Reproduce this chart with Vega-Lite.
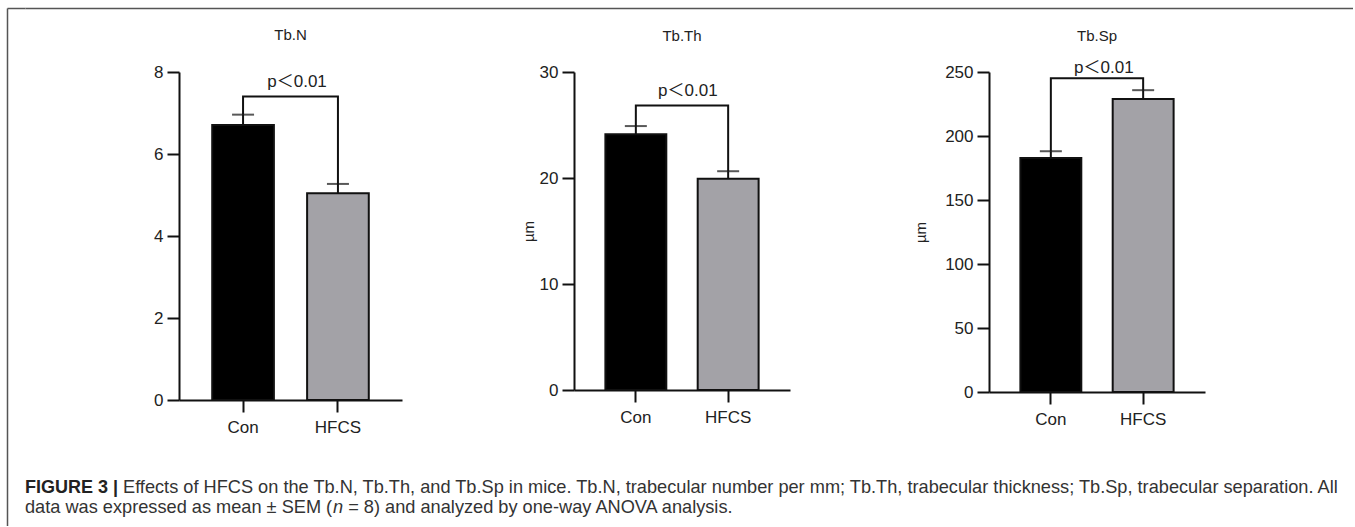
{
  "$schema": "https://vega.github.io/schema/vega-lite/v6.json",
  "background": "white",
  "padding": {"left": 7, "top": 8, "right": 0, "bottom": 0},
  "config": {
    "view": {"stroke": null},
    "font": "Liberation Sans",
    "axis": {"grid": false, "domainColor": "#111", "domainWidth": 2, "tickColor": "#111", "tickWidth": 2, "tickSize": 12, "labelFontSize": 17, "labelColor": "#222", "labelPadding": 4, "titleFontSize": 15, "titleFontWeight": "normal", "titleColor": "#222"},
    "axisX": {"labelAngle": 0, "labelPadding": 7, "title": null},
    "title": {"fontSize": 15, "fontWeight": "normal", "color": "#222", "frame": "group", "anchor": "middle", "baseline": "alphabetic"}
  },
  "datasets": {
    "frame": [{"fx": 0.5, "fy": 0.5}],
    "bars": [
      {"panel": "Tb.N", "group": "Con", "mean": 6.71, "upper": 6.96},
      {"panel": "Tb.N", "group": "HFCS", "mean": 5.04, "upper": 5.27},
      {"panel": "Tb.Th", "group": "Con", "mean": 24.13, "upper": 24.9},
      {"panel": "Tb.Th", "group": "HFCS", "mean": 19.92, "upper": 20.64},
      {"panel": "Tb.Sp", "group": "Con", "mean": 182.9, "upper": 188.1},
      {"panel": "Tb.Sp", "group": "HFCS", "mean": 229.0, "upper": 235.8}
    ],
    "bracket": [
      {"panel": "Tb.N", "group": "Con", "y": 6.96, "o": 1},
      {"panel": "Tb.N", "group": "Con", "y": 7.4, "o": 2},
      {"panel": "Tb.N", "group": "HFCS", "y": 7.4, "o": 3},
      {"panel": "Tb.N", "group": "HFCS", "y": 5.27, "o": 4},
      {"panel": "Tb.Th", "group": "Con", "y": 24.9, "o": 1},
      {"panel": "Tb.Th", "group": "Con", "y": 26.83, "o": 2},
      {"panel": "Tb.Th", "group": "HFCS", "y": 26.83, "o": 3},
      {"panel": "Tb.Th", "group": "HFCS", "y": 20.64, "o": 4},
      {"panel": "Tb.Sp", "group": "Con", "y": 188.1, "o": 1},
      {"panel": "Tb.Sp", "group": "Con", "y": 245.1, "o": 2},
      {"panel": "Tb.Sp", "group": "HFCS", "y": 245.1, "o": 3},
      {"panel": "Tb.Sp", "group": "HFCS", "y": 235.8, "o": 4}
    ],
    "ptext": [
      {"panel": "Tb.N", "group": "Con", "y": 7.4, "label": "p＜0.01"},
      {"panel": "Tb.Th", "group": "Con", "y": 26.83, "label": "p＜0.01"},
      {"panel": "Tb.Sp", "group": "Con", "y": 245.1, "label": "p＜0.01"}
    ],
    "caption": [
      {"line": 1, "part": "bold", "x": 0, "text": "FIGURE 3 |"},
      {"line": 1, "part": "normal", "x": 0, "text": "Effects of HFCS on the Tb.N, Tb.Th, and Tb.Sp in mice. Tb.N, trabecular number per mm; Tb.Th, trabecular thickness; Tb.Sp, trabecular separation. All"},
      {"line": 2, "part": "a", "x": 0, "text": "data was expressed as mean ± SEM ("},
      {"line": 2, "part": "italic", "x": 0, "text": "n"},
      {"line": 2, "part": "b", "x": 0, "text": "= 8) and analyzed by one-way ANOVA analysis."}
    ]
  },
  "spacing": 0,
  "hconcat": [
    {
      "width": 18, "height": 518,
      "data": {"name": "frame"},
      "mark": {"type": "point", "opacity": 0, "size": 0},
      "encoding": {
        "x": {"field": "fx", "type": "quantitative", "scale": {"domain": [0, 1]}, "axis": {"orient": "top", "domainColor": "#555", "domainWidth": 1.5, "ticks": false, "labels": false, "title": null}},
        "y": {"field": "fy", "type": "quantitative", "scale": {"domain": [0, 1]}, "axis": {"orient": "left", "domainColor": "#555", "domainWidth": 1.5, "ticks": false, "labels": false, "title": null}}
      }
    },
    {
      "spacing": 19,
      "vconcat": [
        {
          "width": 1328, "height": 1,
          "data": {"name": "frame"},
          "mark": {"type": "point", "opacity": 0, "size": 0},
          "encoding": {
            "x": {"field": "fx", "type": "quantitative", "scale": {"domain": [0, 1]}, "axis": {"orient": "top", "domainColor": "#555", "domainWidth": 1.5, "ticks": false, "labels": false, "title": null}}
          }
        },
        {
          "spacing": 43,
          "vconcat": [
            {
              "spacing": 127,
              "hconcat": [
                {"width": 1, "height": 1, "data": {"values": []}, "mark": "point"},
                {
                  "spacing": 119,
                  "hconcat": [
                    {
                      "width": 223, "height": 328,
                      "title": {"text": "Tb.N", "offset": 20},
                      "layer": [
                        {
                          "data": {"name": "bars"}, "transform": [{"filter": "datum.panel === 'Tb.N'"}],
                          "mark": {"type": "bar", "stroke": "#111", "strokeWidth": 2},
                          "encoding": {
                            "x": {"field": "group", "type": "nominal", "sort": ["Con", "HFCS"], "scale": {"paddingInner": 0.35, "paddingOuter": 0.35}},
                            "y": {"field": "mean", "type": "quantitative", "scale": {"domain": [0, 8], "nice": false}, "axis": {"values": [0, 2, 4, 6, 8], "title": null}},
                            "fill": {"field": "group", "type": "nominal", "scale": {"domain": ["Con", "HFCS"], "range": ["#000000", "#a3a2a7"]}, "legend": null}
                          }
                        },
                        {
                          "data": {"name": "bars"}, "transform": [{"filter": "datum.panel === 'Tb.N'"}],
                          "mark": {"type": "rule", "color": "#111", "strokeWidth": 2},
                          "encoding": {
                            "x": {"field": "group", "type": "nominal", "sort": ["Con", "HFCS"]},
                            "y": {"field": "mean", "type": "quantitative", "scale": {"domain": [0, 8], "nice": false}},
                            "y2": {"field": "upper"}
                          }
                        },
                        {
                          "data": {"name": "bars"}, "transform": [{"filter": "datum.panel === 'Tb.N'"}],
                          "mark": {"type": "tick", "color": "#111", "thickness": 2, "size": 22, "orient": "horizontal"},
                          "encoding": {
                            "x": {"field": "group", "type": "nominal", "sort": ["Con", "HFCS"]},
                            "y": {"field": "upper", "type": "quantitative", "scale": {"domain": [0, 8], "nice": false}}
                          }
                        },
                        {
                          "data": {"name": "bracket"}, "transform": [{"filter": "datum.panel === 'Tb.N'"}],
                          "mark": {"type": "line", "color": "#111", "strokeWidth": 2},
                          "encoding": {
                            "x": {"field": "group", "type": "nominal", "sort": ["Con", "HFCS"]},
                            "y": {"field": "y", "type": "quantitative", "scale": {"domain": [0, 8], "nice": false}},
                            "order": {"field": "o", "type": "quantitative"}
                          }
                        },
                        {
                          "data": {"name": "ptext"}, "transform": [{"filter": "datum.panel === 'Tb.N'"}],
                          "mark": {"type": "text", "fontSize": 17, "color": "#222", "dx": 54, "dy": -10, "align": "center", "baseline": "alphabetic", "font": "Liberation Sans, Noto Sans CJK SC"},
                          "encoding": {
                            "x": {"field": "group", "type": "nominal", "sort": ["Con", "HFCS"]},
                            "y": {"field": "y", "type": "quantitative", "scale": {"domain": [0, 8], "nice": false}},
                            "text": {"field": "label"}
                          }
                        }
                      ]
                    },
                    {
                      "spacing": 123,
                      "hconcat": [
                        {
                          "width": 216, "height": 318,
                          "title": {"text": "Tb.Th", "offset": 19},
                          "layer": [
                            {
                              "data": {"name": "bars"}, "transform": [{"filter": "datum.panel === 'Tb.Th'"}],
                              "mark": {"type": "bar", "stroke": "#111", "strokeWidth": 2},
                              "encoding": {
                                "x": {"field": "group", "type": "nominal", "sort": ["Con", "HFCS"], "scale": {"paddingInner": 0.34, "paddingOuter": 0.34}},
                                "y": {"field": "mean", "type": "quantitative", "scale": {"domain": [0, 30], "nice": false}, "axis": {"values": [0, 10, 20, 30], "title": "µm", "titlePadding": 3}},
                                "fill": {"field": "group", "type": "nominal", "scale": {"domain": ["Con", "HFCS"], "range": ["#000000", "#a3a2a7"]}, "legend": null}
                              }
                            },
                            {
                              "data": {"name": "bars"}, "transform": [{"filter": "datum.panel === 'Tb.Th'"}],
                              "mark": {"type": "rule", "color": "#111", "strokeWidth": 2},
                              "encoding": {
                                "x": {"field": "group", "type": "nominal", "sort": ["Con", "HFCS"]},
                                "y": {"field": "mean", "type": "quantitative", "scale": {"domain": [0, 30], "nice": false}},
                                "y2": {"field": "upper"}
                              }
                            },
                            {
                              "data": {"name": "bars"}, "transform": [{"filter": "datum.panel === 'Tb.Th'"}],
                              "mark": {"type": "tick", "color": "#111", "thickness": 2, "size": 22, "orient": "horizontal"},
                              "encoding": {
                                "x": {"field": "group", "type": "nominal", "sort": ["Con", "HFCS"]},
                                "y": {"field": "upper", "type": "quantitative", "scale": {"domain": [0, 30], "nice": false}}
                              }
                            },
                            {
                              "data": {"name": "bracket"}, "transform": [{"filter": "datum.panel === 'Tb.Th'"}],
                              "mark": {"type": "line", "color": "#111", "strokeWidth": 2},
                              "encoding": {
                                "x": {"field": "group", "type": "nominal", "sort": ["Con", "HFCS"]},
                                "y": {"field": "y", "type": "quantitative", "scale": {"domain": [0, 30], "nice": false}},
                                "order": {"field": "o", "type": "quantitative"}
                              }
                            },
                            {
                              "data": {"name": "ptext"}, "transform": [{"filter": "datum.panel === 'Tb.Th'"}],
                              "mark": {"type": "text", "fontSize": 17, "color": "#222", "dx": 52, "dy": -10, "align": "center", "baseline": "alphabetic", "font": "Liberation Sans, Noto Sans CJK SC"},
                              "encoding": {
                                "x": {"field": "group", "type": "nominal", "sort": ["Con", "HFCS"]},
                                "y": {"field": "y", "type": "quantitative", "scale": {"domain": [0, 30], "nice": false}},
                                "text": {"field": "label"}
                              }
                            }
                          ]
                        },
                        {
                          "width": 216, "height": 320,
                          "title": {"text": "Tb.Sp", "offset": 15},
                          "layer": [
                            {
                              "data": {"name": "bars"}, "transform": [{"filter": "datum.panel === 'Tb.Sp'"}],
                              "mark": {"type": "bar", "stroke": "#111", "strokeWidth": 2},
                              "encoding": {
                                "x": {"field": "group", "type": "nominal", "sort": ["Con", "HFCS"], "scale": {"paddingInner": 0.34, "paddingOuter": 0.34}},
                                "y": {"field": "mean", "type": "quantitative", "scale": {"domain": [0, 250], "nice": false}, "axis": {"values": [0, 50, 100, 150, 200, 250], "title": "µm", "titlePadding": 16}},
                                "fill": {"field": "group", "type": "nominal", "scale": {"domain": ["Con", "HFCS"], "range": ["#000000", "#a3a2a7"]}, "legend": null}
                              }
                            },
                            {
                              "data": {"name": "bars"}, "transform": [{"filter": "datum.panel === 'Tb.Sp'"}],
                              "mark": {"type": "rule", "color": "#111", "strokeWidth": 2},
                              "encoding": {
                                "x": {"field": "group", "type": "nominal", "sort": ["Con", "HFCS"]},
                                "y": {"field": "mean", "type": "quantitative", "scale": {"domain": [0, 250], "nice": false}},
                                "y2": {"field": "upper"}
                              }
                            },
                            {
                              "data": {"name": "bars"}, "transform": [{"filter": "datum.panel === 'Tb.Sp'"}],
                              "mark": {"type": "tick", "color": "#111", "thickness": 2, "size": 22, "orient": "horizontal"},
                              "encoding": {
                                "x": {"field": "group", "type": "nominal", "sort": ["Con", "HFCS"]},
                                "y": {"field": "upper", "type": "quantitative", "scale": {"domain": [0, 250], "nice": false}}
                              }
                            },
                            {
                              "data": {"name": "bracket"}, "transform": [{"filter": "datum.panel === 'Tb.Sp'"}],
                              "mark": {"type": "line", "color": "#111", "strokeWidth": 2},
                              "encoding": {
                                "x": {"field": "group", "type": "nominal", "sort": ["Con", "HFCS"]},
                                "y": {"field": "y", "type": "quantitative", "scale": {"domain": [0, 250], "nice": false}},
                                "order": {"field": "o", "type": "quantitative"}
                              }
                            },
                            {
                              "data": {"name": "ptext"}, "transform": [{"filter": "datum.panel === 'Tb.Sp'"}],
                              "mark": {"type": "text", "fontSize": 17, "color": "#222", "dx": 53, "dy": -5, "align": "center", "baseline": "alphabetic", "font": "Liberation Sans, Noto Sans CJK SC"},
                              "encoding": {
                                "x": {"field": "group", "type": "nominal", "sort": ["Con", "HFCS"]},
                                "y": {"field": "y", "type": "quantitative", "scale": {"domain": [0, 250], "nice": false}},
                                "text": {"field": "label"}
                              }
                            }
                          ]
                        }
                      ]
                    }
                  ]
                }
              ]
            },
            {
              "width": 1300, "height": 20,
              "data": {"name": "caption"},
              "encoding": {
                "x": {"field": "x", "type": "quantitative", "scale": {"domain": [0, 1]}, "axis": null},
                "y": {"field": "line", "type": "quantitative", "scale": {"domain": [1, 2], "reverse": true}, "axis": null},
                "text": {"field": "text"}
              },
              "layer": [
                {"transform": [{"filter": "datum.part === 'bold'"}], "mark": {"type": "text", "align": "left", "baseline": "alphabetic", "fontSize": 18, "fontWeight": "bold", "color": "#222"}},
                {"transform": [{"filter": "datum.part === 'normal'"}], "mark": {"type": "text", "align": "left", "baseline": "alphabetic", "fontSize": 18.2, "color": "#333", "dx": 98}},
                {"transform": [{"filter": "datum.part === 'a'"}], "mark": {"type": "text", "align": "left", "baseline": "alphabetic", "fontSize": 18.2, "color": "#333"}},
                {"transform": [{"filter": "datum.part === 'italic'"}], "mark": {"type": "text", "align": "left", "baseline": "alphabetic", "fontSize": 18.2, "fontStyle": "italic", "color": "#333", "dx": 308}},
                {"transform": [{"filter": "datum.part === 'b'"}], "mark": {"type": "text", "align": "left", "baseline": "alphabetic", "fontSize": 18.2, "color": "#333", "dx": 323.2}}
              ]
            }
          ]
        }
      ]
    }
  ]
}
